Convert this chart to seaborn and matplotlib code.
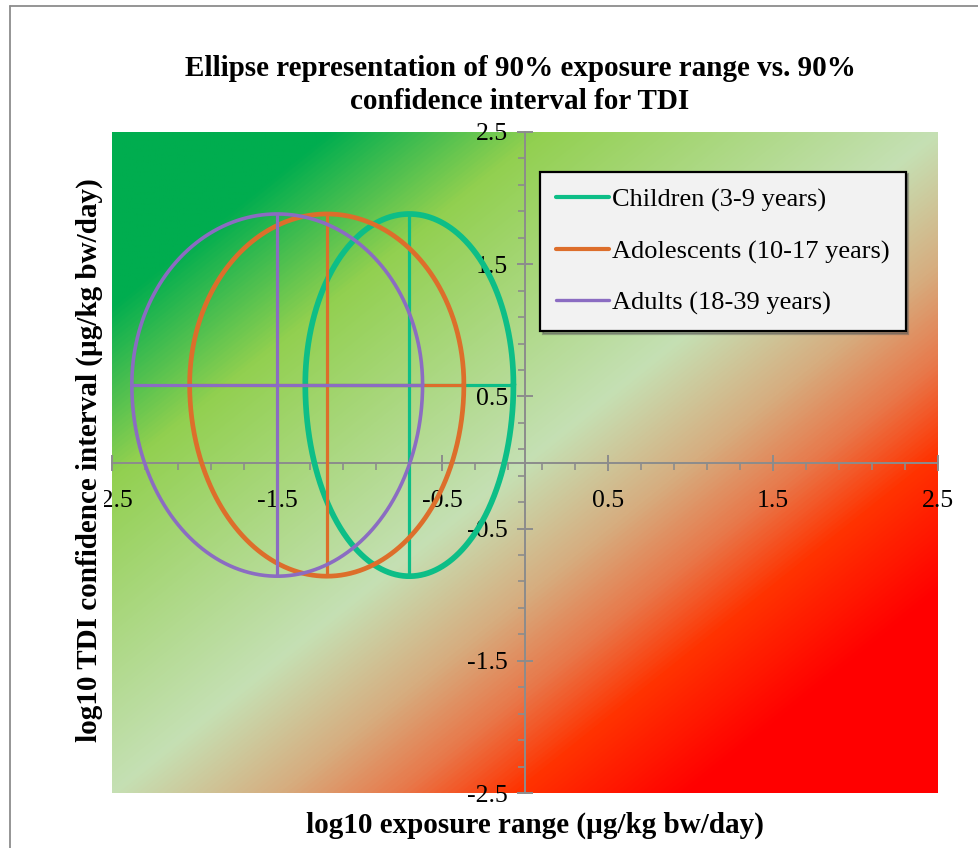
import numpy as np
import pandas as pd
import matplotlib
matplotlib.use("Agg")
import matplotlib.pyplot as plt
import seaborn as sns
from matplotlib.colors import LinearSegmentedColormap
from matplotlib.lines import Line2D
from matplotlib.ticker import FixedLocator

# ---------------- data ----------------
groups = ["Children (3-9 years)", "Adolescents (10-17 years)", "Adults (18-39 years)"]
exposure_low = [-1.33, -2.03, -2.38]
exposure_mid = [-0.70, -1.20, -1.50]
exposure_high = [-0.07, -0.37, -0.62]
tdi_low = [-0.86, -0.86, -0.86]
tdi_mid = [0.59, 0.59, 0.59]
tdi_high = [1.88, 1.88, 1.88]
colors = ["#0DBE87", "#DD6E2B", "#8B6CC2"]
ellipse_lw = [4.1, 3.4, 2.6]
cross_lw = [2.3, 2.3, 2.3]
major_ticks = [-2.5, -1.5, -0.5, 0.5, 1.5, 2.5]
tick_labels = ["-2.5", "-1.5", "-0.5", "0.5", "1.5", "2.5"]

title = "Ellipse representation of 90% exposure range vs. 90%\nconfidence interval for TDI"
xlabel = "log10 exposure range (µg/kg bw/day)"
ylabel = "log10 TDI confidence interval (µg/kg bw/day)"

# ---------------- style ----------------
sns.set_style("white")
plt.rcParams["font.family"] = ["Liberation Serif", "DejaVu Serif"]
plt.rcParams["text.color"] = "black"

W, H = 979, 848
fig = plt.figure(figsize=(W / 100, H / 100), dpi=100)
L, R, T, B = 112, 938, 132, 793
ax = fig.add_axes([L / W, 1 - B / H, (R - L) / W, (B - T) / H])

# background gradient (green upper-left -> pale diagonal -> red lower-right)
stops = [(0.0, "#00AD4F"), (0.13, "#00AD4F"), (0.26, "#92D050"), (0.5, "#C5E0B4"),
         (0.60, "#D6AE80"), (0.675, "#E8784A"), (0.745, "#FF3300"), (0.85, "#FF0000"),
         (1.0, "#FF0000")]
cmap = LinearSegmentedColormap.from_list("bg", stops)
gx = np.linspace(-2.5, 2.5, 600)
gy = np.linspace(-2.5, 2.5, 600)
GX, GY = np.meshgrid(gx, gy)
ax.imshow(GX - GY, extent=[-2.5, 2.5, -2.5, 2.5], origin="lower", cmap=cmap,
          vmin=-5, vmax=5, aspect="auto", zorder=0, interpolation="bilinear")

# ellipses + crosses
theta = np.linspace(0, 2 * np.pi, 721)
handles = []
for i, g in enumerate(groups):
    cx = exposure_mid[i]
    a = (exposure_high[i] - exposure_low[i]) / 2
    cy = tdi_mid[i]
    b_up = tdi_high[i] - tdi_mid[i]
    b_dn = tdi_mid[i] - tdi_low[i]
    s = np.sin(theta)
    ex = cx + a * np.cos(theta)
    ey = cy + np.where(s >= 0, b_up, b_dn) * s
    df = pd.DataFrame({"x": ex, "y": ey})
    sns.lineplot(data=df, x="x", y="y", sort=False, estimator=None, color=colors[i],
                 linewidth=ellipse_lw[i], ax=ax, zorder=3 + i)
    ax.plot([exposure_low[i], exposure_high[i]], [cy, cy], color=colors[i],
            lw=cross_lw[i], zorder=3 + i, solid_capstyle="butt")
    ax.plot([cx, cx], [tdi_low[i], tdi_high[i]], color=colors[i],
            lw=cross_lw[i], zorder=3 + i, solid_capstyle="butt")
    handles.append(Line2D([0], [0], color=colors[i], lw=[3.0, 3.0, 2.4][i],
                          solid_capstyle="round"))

ax.set_xlim(-2.5, 2.5)
ax.set_ylim(-2.5, 2.5)
ax.set_xlabel("")
ax.set_ylabel("")

# axes crossing at origin
for side in ["top", "right"]:
    ax.spines[side].set_visible(False)
for side in ["left", "bottom"]:
    ax.spines[side].set_position(("data", 0))
    ax.spines[side].set_color("#8C8C8C")
    ax.spines[side].set_linewidth(1.4)
    ax.spines[side].set_zorder(2.5)

ax.xaxis.set_major_locator(FixedLocator(major_ticks))
ax.yaxis.set_major_locator(FixedLocator(major_ticks))
ax.set_xticklabels(tick_labels)
ax.set_yticklabels(tick_labels)
minor = np.round(np.arange(-2.5, 2.51, 0.2), 2)
ax.xaxis.set_minor_locator(FixedLocator(minor))
ax.yaxis.set_minor_locator(FixedLocator(minor))
ax.tick_params(which="both", bottom=True, left=True, top=False, right=False)
ax.tick_params(which="major", direction="inout", length=11, width=1.4, color="#8C8C8C",
               labelsize=18.5, labelcolor="black")
ax.tick_params(which="minor", direction="out", length=5, width=1.2, color="#8C8C8C")
ax.tick_params(axis="x", which="major", pad=14)
ax.tick_params(axis="y", which="major", pad=7)
ax.grid(False)

# legend
leg = ax.legend(handles, groups, loc="upper left", bbox_to_anchor=(0.518, 0.94),
                borderaxespad=0, frameon=True, fancybox=False, fontsize=19,
                handlelength=2.0, handletextpad=0.1, labelspacing=1.05,
                borderpad=0.62, shadow={"color": "0.35", "alpha": 0.45})
leg.get_frame().set_facecolor("#F2F2F2")
leg.get_frame().set_edgecolor("black")
leg.get_frame().set_linewidth(1.6)
leg.get_frame().set_alpha(1)
for t in leg.get_texts():
    t.set_color("black")

# titles / labels
fig.text(520 / W, 1 - 85 / H, title, ha="center", va="center", fontsize=21,
         fontweight="bold", linespacing=1.3, color="black")
fig.text(535 / W, 1 - 825 / H, xlabel, ha="center", va="center", fontsize=21,
         fontweight="bold", color="black")
fig.text(89 / W, 1 - 460 / H, ylabel, ha="center", va="center", fontsize=21,
         fontweight="bold", rotation=90, color="black",
         bbox=dict(boxstyle="square,pad=0.05", facecolor="white", edgecolor="none"))

# outer chart border
fig.add_artist(Line2D([10 / W, 1], [1 - 6 / H, 1 - 6 / H], transform=fig.transFigure,
                      color="#8C8C8C", lw=1.3))
fig.add_artist(Line2D([10 / W, 10 / W], [0, 1 - 6 / H], transform=fig.transFigure,
                      color="#8C8C8C", lw=1.3))

fig.savefig("out.png", dpi=100)
